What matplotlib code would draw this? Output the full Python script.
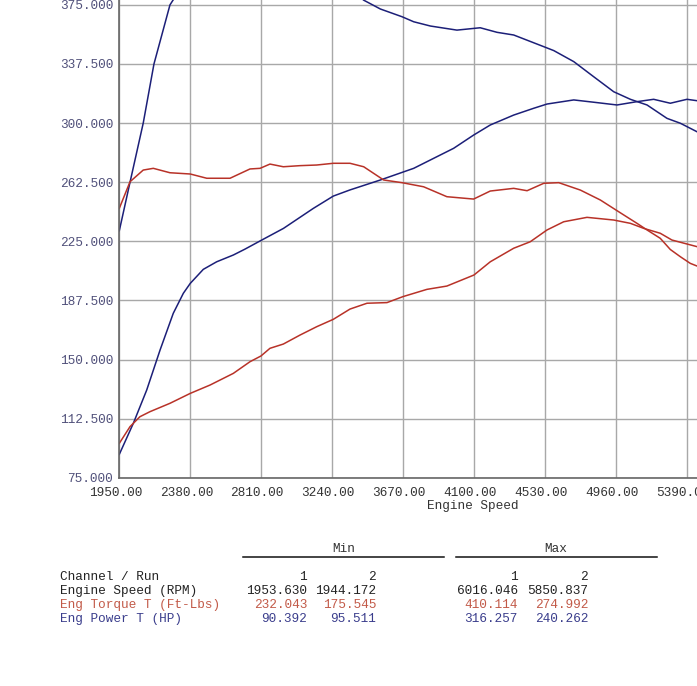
import matplotlib
matplotlib.use('Agg')
import matplotlib.pyplot as plt
import matplotlib.transforms as mtransforms

# ---------------- data ----------------
x_ticks = [1950, 2380, 2810, 3240, 3670, 4100, 4530, 4960, 5390]
y_ticks = [75.0, 112.5, 150.0, 187.5, 225.0, 262.5, 300.0, 337.5, 375.0]

# Run 1 (blue)
torque1_rpm = [1950, 2015, 2095, 2160, 2257, 2300, 2500, 2800, 3100, 3300, 3431, 3532, 3663,
               3734, 3835, 3996, 4137, 4239, 4340, 4522, 4583, 4704, 4825, 4946, 5047,
               5148, 5269, 5350, 5451]
torque1_val = [231.7, 262.5, 300.0, 337.5, 375.0, 382.0, 398.0, 408.0, 405.0, 390.0, 378.0, 372.4, 367.5,
               364.3, 361.6, 359.0, 360.5, 357.6, 355.9, 348.5, 346.0, 339.0, 329.4, 319.9, 315.1,
               311.5, 303.0, 299.9, 294.5]

power1_rpm = [1950, 2035, 2116, 2197, 2277, 2338, 2380, 2459, 2540, 2641, 2711, 2808, 2945,
              3126, 3247, 3348, 3532, 3734, 3976, 4097, 4198, 4340, 4461, 4542, 4704,
              4845, 4966, 5087, 5188, 5289, 5390, 5451]
power1_val = [89.8, 109.5, 130.6, 156.0, 179.3, 192.0, 198.3, 207.2, 212.0, 216.3, 220.0, 225.5, 233.2,
              245.9, 253.7, 257.6, 263.9, 271.3, 284.0, 292.4, 298.8, 305.1, 309.4, 312.1, 314.7,
              313.0, 311.5, 313.6, 315.1, 312.6, 315.1, 314.2]

# Run 2 (red)
torque2_rpm = [1950, 2015, 2095, 2156, 2257, 2380, 2480, 2621, 2742, 2803, 2863, 2944, 3045,
               3146, 3247, 3348, 3431, 3552, 3663, 3794, 3935, 4097, 4198, 4340, 4421,
               4522, 4613, 4744, 4865, 4986, 5087, 5148, 5228, 5289, 5350, 5410, 5451]
torque2_val = [245.9, 262.8, 270.2, 271.3, 268.5, 267.7, 265.0, 265.0, 270.9, 271.3, 274.0, 272.3, 273.0,
               273.4, 274.5, 274.5, 272.3, 263.9, 262.2, 259.6, 253.3, 251.8, 256.9, 258.6, 257.1,
               261.8, 262.2, 257.5, 251.2, 243.1, 236.4, 232.2, 226.9, 219.8, 215.2, 211.0, 209.3]

power2_rpm = [1950, 2015, 2075, 2136, 2257, 2380, 2500, 2641, 2742, 2808, 2863, 2944, 3045,
              3146, 3247, 3348, 3451, 3572, 3669, 3814, 3935, 4099, 4198, 4340, 4440,
              4542, 4643, 4784, 4946, 5047, 5128, 5228, 5299, 5451]
power2_val = [96.8, 107.4, 113.7, 116.9, 122.2, 128.5, 133.8, 141.2, 148.6, 152.2, 157.1, 159.8, 165.5,
              170.8, 175.5, 182.0, 185.7, 186.1, 189.9, 194.5, 196.6, 203.6, 212.0, 220.6, 224.7,
              232.2, 237.4, 240.2, 238.5, 236.4, 233.2, 230.1, 225.8, 221.6]

table_rows = ["Channel / Run", "Engine Speed (RPM)", "Eng Torque T (Ft-Lbs)", "Eng Power T (HP)"]
min_run1 = ["1", "1953.630", "232.043", "90.392"]
min_run2 = ["2", "1944.172", "175.545", "95.511"]
max_run1 = ["1", "6016.046", "410.114", "316.257"]
max_run2 = ["2", "5850.837", "274.992", "240.262"]

# ---------------- style ----------------
W, H = 697, 686
BLUE = '#1c1f78'
RED = '#b83228'
row_colors = ['#222222', '#222222', '#c25a48', '#3a3d8c']
MONO = 'Liberation Mono'
FS = 9.2

fig = plt.figure(figsize=(W / 100, H / 100), dpi=100)
fig.patch.set_facecolor('white')

ax_left, ax_bottom_px = 119.3, 477.7
ax = fig.add_axes([ax_left / W, 1 - ax_bottom_px / H, 1 - ax_left / W, ax_bottom_px / H])

ax.plot(torque1_rpm, torque1_val, color=BLUE, lw=1.1)
ax.plot(power1_rpm, power1_val, color=BLUE, lw=1.1)
ax.plot(torque2_rpm, torque2_val, color=RED, lw=1.1)
ax.plot(power2_rpm, power2_val, color=RED, lw=1.1)

ax.set_xticks(x_ticks)
ax.set_yticks(y_ticks)
ax.set_xticklabels([f"{v:.2f}" for v in x_ticks])
ax.set_yticklabels([f"{v:.3f}" for v in y_ticks])

px_per_rpm = 70.96 / 430.0
px_per_val = 59.1 / 37.5
ax.set_xlim(1950, 1950 + (W - ax_left) / px_per_rpm)
ax.set_ylim(75, 75 + ax_bottom_px / px_per_val)

ax.grid(True, color='#a8a8a8', lw=1.0)
ax.set_axisbelow(True)
ax.tick_params(axis='both', length=0)
ax.tick_params(axis='y', pad=4.5, labelcolor='#50507a', labelsize=FS)
ax.tick_params(axis='x', pad=6.5, labelcolor='#333333', labelsize=FS)
shift = mtransforms.ScaledTranslation(-4 / 100, 0, fig.dpi_scale_trans)
for lab in ax.get_xticklabels():
    lab.set_fontfamily(MONO)
    lab.set_transform(lab.get_transform() + shift)
for lab in ax.get_yticklabels():
    lab.set_fontfamily(MONO)
for s in ['top', 'right']:
    ax.spines[s].set_visible(False)
for s in ['left', 'bottom']:
    ax.spines[s].set_color('#666666')
    ax.spines[s].set_linewidth(1.2)

fig.text(473 / W, 1 - 506 / H, "Engine Speed", ha='center', va='center',
         family=MONO, fontsize=FS, color='#333333')

def fx(x):
    return x / W

def fy(y):
    return 1 - y / H

# headers
fig.text(fx(344), fy(549), "Min", ha='center', va='center', family=MONO, fontsize=FS, color='#333333')
fig.text(fx(556), fy(549), "Max", ha='center', va='center', family=MONO, fontsize=FS, color='#333333')
fig.add_artist(plt.Line2D([fx(243), fx(444)], [fy(556.5), fy(556.5)], color='#111111', lw=1.1))
fig.add_artist(plt.Line2D([fx(456), fx(657)], [fy(556.5), fy(556.5)], color='#111111', lw=1.1))

row_y = [577.3, 591.3, 605.3, 619.3]
for i, name in enumerate(table_rows):
    c = row_colors[i]
    y = fy(row_y[i])
    fig.text(fx(59.5), y, name, ha='left', va='center', family=MONO, fontsize=FS, color=c)
    fig.text(fx(307), y, min_run1[i], ha='right', va='center', family=MONO, fontsize=FS, color=c)
    fig.text(fx(376), y, min_run2[i], ha='right', va='center', family=MONO, fontsize=FS, color=c)
    fig.text(fx(518), y, max_run1[i], ha='right', va='center', family=MONO, fontsize=FS, color=c)
    fig.text(fx(588), y, max_run2[i], ha='right', va='center', family=MONO, fontsize=FS, color=c)

fig.savefig('out.png', dpi=100, facecolor='white')
